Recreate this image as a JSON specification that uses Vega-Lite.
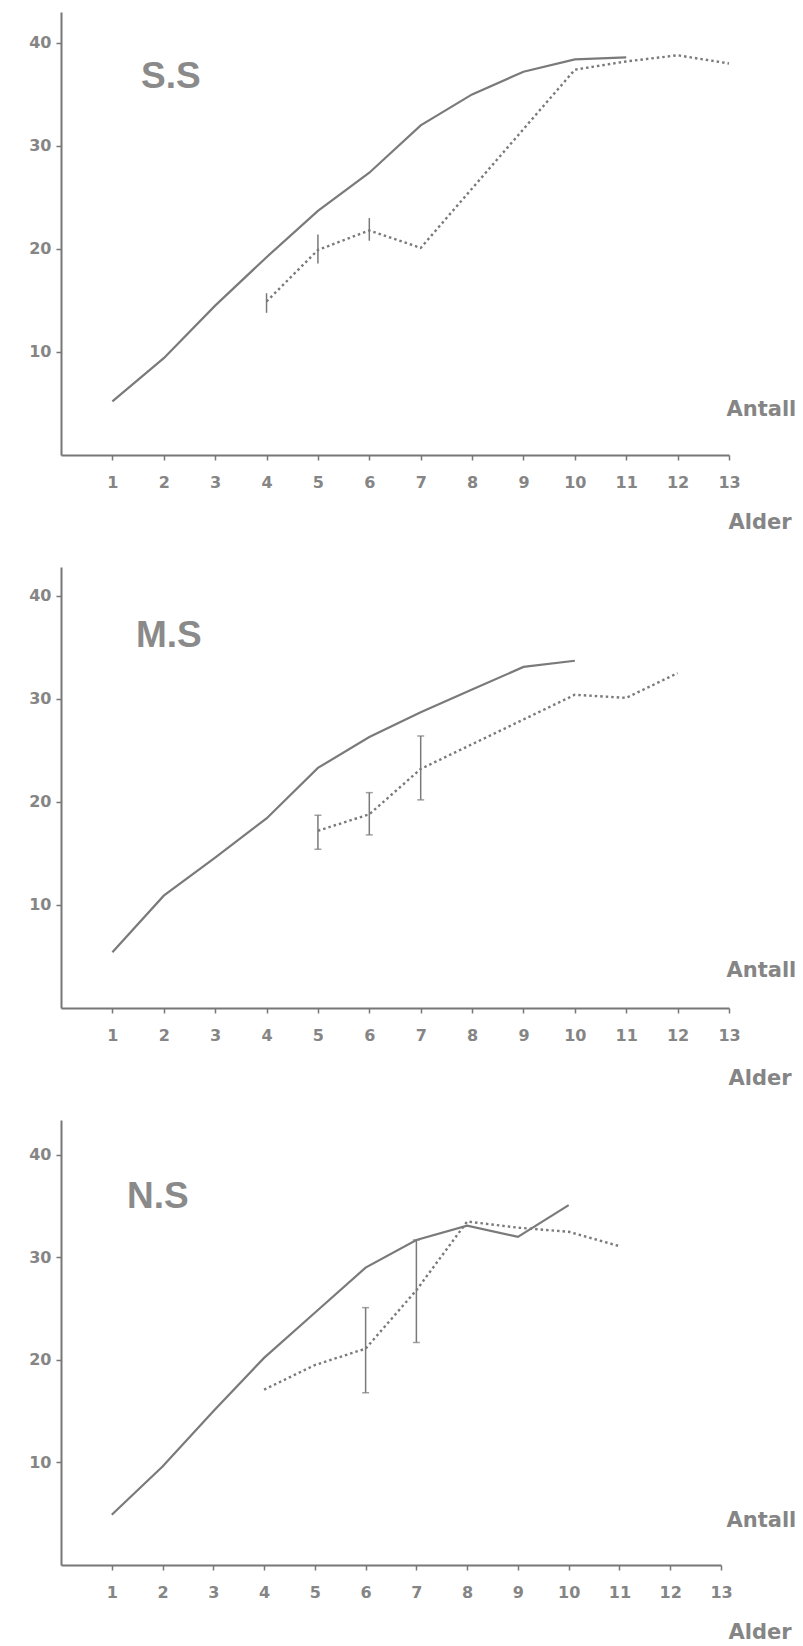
{
  "$schema": "https://vega.github.io/schema/vega-lite/v6.json",
  "padding": {"left": 28, "top": 12, "right": 5, "bottom": 5},
  "background": "white",
  "datasets": {
    "ss": [
      {"series": "solid", "age": 1, "value": 5.2},
      {"series": "solid", "age": 2, "value": 9.4},
      {"series": "solid", "age": 3, "value": 14.5},
      {"series": "solid", "age": 4, "value": 19.2},
      {"series": "solid", "age": 5, "value": 23.7},
      {"series": "solid", "age": 6, "value": 27.4},
      {"series": "solid", "age": 7, "value": 32.0},
      {"series": "solid", "age": 8, "value": 35.0},
      {"series": "solid", "age": 9, "value": 37.2},
      {"series": "solid", "age": 10, "value": 38.4},
      {"series": "solid", "age": 11, "value": 38.6},
      {"series": "dotted", "age": 4, "value": 14.9, "lo": 13.8, "hi": 15.7},
      {"series": "dotted", "age": 5, "value": 19.9, "lo": 18.6, "hi": 21.4},
      {"series": "dotted", "age": 6, "value": 21.8, "lo": 20.8, "hi": 23.0},
      {"series": "dotted", "age": 7, "value": 20.1},
      {"series": "dotted", "age": 10, "value": 37.4},
      {"series": "dotted", "age": 11, "value": 38.2},
      {"series": "dotted", "age": 12, "value": 38.8},
      {"series": "dotted", "age": 13, "value": 38.0}
    ],
    "ms": [
      {"series": "solid", "age": 1, "value": 5.4},
      {"series": "solid", "age": 2, "value": 10.9},
      {"series": "solid", "age": 3, "value": 14.6},
      {"series": "solid", "age": 4, "value": 18.4},
      {"series": "solid", "age": 5, "value": 23.3},
      {"series": "solid", "age": 6, "value": 26.3},
      {"series": "solid", "age": 7, "value": 28.7},
      {"series": "solid", "age": 8, "value": 30.9},
      {"series": "solid", "age": 9, "value": 33.1},
      {"series": "solid", "age": 10, "value": 33.7},
      {"series": "dotted", "age": 5, "value": 17.2, "lo": 15.4, "hi": 18.7},
      {"series": "dotted", "age": 6, "value": 18.8, "lo": 16.8, "hi": 20.9},
      {"series": "dotted", "age": 7, "value": 23.2, "lo": 20.2, "hi": 26.4},
      {"series": "dotted", "age": 10, "value": 30.4},
      {"series": "dotted", "age": 11, "value": 30.1},
      {"series": "dotted", "age": 12, "value": 32.5}
    ],
    "ns": [
      {"series": "solid", "age": 1, "value": 4.9},
      {"series": "solid", "age": 2, "value": 9.6},
      {"series": "solid", "age": 3, "value": 15.0},
      {"series": "solid", "age": 4, "value": 20.2},
      {"series": "solid", "age": 5, "value": 24.6},
      {"series": "solid", "age": 6, "value": 29.0},
      {"series": "solid", "age": 7, "value": 31.7},
      {"series": "solid", "age": 8, "value": 33.1},
      {"series": "solid", "age": 9, "value": 32.0},
      {"series": "solid", "age": 10, "value": 35.1},
      {"series": "dotted", "age": 4, "value": 17.1},
      {"series": "dotted", "age": 5, "value": 19.5},
      {"series": "dotted", "age": 6, "value": 21.1, "lo": 16.8, "hi": 25.1},
      {"series": "dotted", "age": 7, "value": 26.8, "lo": 21.7, "hi": 31.7},
      {"series": "dotted", "age": 8, "value": 33.5},
      {"series": "dotted", "age": 9, "value": 32.9},
      {"series": "dotted", "age": 10, "value": 32.5},
      {"series": "dotted", "age": 11, "value": 31.1}
    ]
  },
  "vconcat": [
    {
      "width": 668,
      "height": 443,
      "data": {"name": "ss"},
      "title": {"text": "S.S", "anchor": "start", "frame": "group", "offset": 0, "dx": 80, "dy": 113, "baseline": "alphabetic"},
      "encoding": {
        "x": {"field": "age", "type": "quantitative", "scale": {"domain": [0, 13], "nice": false, "zero": false},
          "axis": {"values": [1,2,3,4,5,6,7,8,9,10,11,12,13], "title": "Alder", "titleX": 667, "titleY": 67, "titleAlign": "left", "titleBaseline": "middle", "titleAngle": 0, "labelPadding": 14, "labelFlush": false, "labelOverlap": false}},
        "y": {"field": "value", "type": "quantitative", "scale": {"domain": [0, 43], "nice": false},
          "axis": {"values": [10, 20, 30, 40], "title": "Antall", "titleX": 665, "titleY": 397, "titleAlign": "left", "titleBaseline": "middle", "titleAngle": 0, "labelPadding": 5}}
      },
      "layer": [
        {"transform": [{"filter": "datum.series == 'solid'"}], "mark": {"type": "line", "color": "#7a7a7a", "strokeWidth": 2.2}},
        {"transform": [{"filter": "datum.series == 'dotted'"}], "mark": {"type": "line", "color": "#7a7a7a", "strokeWidth": 2.4, "strokeDash": [2.5, 3]}},
        {"transform": [{"filter": "isValid(datum.lo)"}], "mark": {"type": "rule", "color": "#7a7a7a", "strokeWidth": 1.5},
          "encoding": {"y": {"field": "lo", "type": "quantitative"}, "y2": {"field": "hi"}}}
      ]
    },
    {
      "width": 668,
      "height": 441,
      "data": {"name": "ms"},
      "title": {"text": "M.S", "anchor": "start", "frame": "group", "offset": 0, "dx": 75, "dy": 117, "baseline": "alphabetic"},
      "encoding": {
        "x": {"field": "age", "type": "quantitative", "scale": {"domain": [0, 13], "nice": false, "zero": false},
          "axis": {"values": [1,2,3,4,5,6,7,8,9,10,11,12,13], "title": "Alder", "titleX": 667, "titleY": 70, "titleAlign": "left", "titleBaseline": "middle", "titleAngle": 0, "labelPadding": 14, "labelFlush": false, "labelOverlap": false}},
        "y": {"field": "value", "type": "quantitative", "scale": {"domain": [0, 42.8], "nice": false},
          "axis": {"values": [10, 20, 30, 40], "title": "Antall", "titleX": 665, "titleY": 403, "titleAlign": "left", "titleBaseline": "middle", "titleAngle": 0, "labelPadding": 5}}
      },
      "layer": [
        {"transform": [{"filter": "datum.series == 'solid'"}], "mark": {"type": "line", "color": "#7a7a7a", "strokeWidth": 2.2}},
        {"transform": [{"filter": "datum.series == 'dotted'"}], "mark": {"type": "line", "color": "#7a7a7a", "strokeWidth": 2.4, "strokeDash": [2.5, 3]}},
        {"transform": [{"filter": "isValid(datum.lo)"}], "mark": {"type": "rule", "color": "#7a7a7a", "strokeWidth": 1.5},
          "encoding": {"y": {"field": "lo", "type": "quantitative"}, "y2": {"field": "hi"}}},
        {"transform": [{"filter": "isValid(datum.lo)"}], "mark": {"type": "tick", "orient": "horizontal", "size": 7, "thickness": 1.5, "color": "#7a7a7a"},
          "encoding": {"y": {"field": "lo", "type": "quantitative"}}},
        {"transform": [{"filter": "isValid(datum.hi)"}], "mark": {"type": "tick", "orient": "horizontal", "size": 7, "thickness": 1.5, "color": "#7a7a7a"},
          "encoding": {"y": {"field": "hi", "type": "quantitative"}}}
      ]
    },
    {
      "width": 660,
      "height": 445,
      "data": {"name": "ns"},
      "title": {"text": "N.S", "anchor": "start", "frame": "group", "offset": 0, "dx": 66, "dy": 125, "baseline": "alphabetic"},
      "encoding": {
        "x": {"field": "age", "type": "quantitative", "scale": {"domain": [0, 13], "nice": false, "zero": false},
          "axis": {"values": [1,2,3,4,5,6,7,8,9,10,11,12,13], "title": "Alder", "titleX": 667, "titleY": 67, "titleAlign": "left", "titleBaseline": "middle", "titleAngle": 0, "labelPadding": 14, "labelFlush": false, "labelOverlap": false}},
        "y": {"field": "value", "type": "quantitative", "scale": {"domain": [0, 43.4], "nice": false},
          "axis": {"values": [10, 20, 30, 40], "title": "Antall", "titleX": 665, "titleY": 400, "titleAlign": "left", "titleBaseline": "middle", "titleAngle": 0, "labelPadding": 5}}
      },
      "layer": [
        {"transform": [{"filter": "datum.series == 'solid'"}], "mark": {"type": "line", "color": "#7a7a7a", "strokeWidth": 2.2}},
        {"transform": [{"filter": "datum.series == 'dotted'"}], "mark": {"type": "line", "color": "#7a7a7a", "strokeWidth": 2.4, "strokeDash": [2.5, 3]}},
        {"transform": [{"filter": "isValid(datum.lo)"}], "mark": {"type": "rule", "color": "#7a7a7a", "strokeWidth": 1.5},
          "encoding": {"y": {"field": "lo", "type": "quantitative"}, "y2": {"field": "hi"}}},
        {"transform": [{"filter": "isValid(datum.lo)"}], "mark": {"type": "tick", "orient": "horizontal", "size": 7, "thickness": 1.5, "color": "#7a7a7a"},
          "encoding": {"y": {"field": "lo", "type": "quantitative"}}},
        {"transform": [{"filter": "isValid(datum.hi)"}], "mark": {"type": "tick", "orient": "horizontal", "size": 7, "thickness": 1.5, "color": "#7a7a7a"},
          "encoding": {"y": {"field": "hi", "type": "quantitative"}}}
      ]
    }
  ],
  "spacing": 112,
  "bounds": "flush",
  "config": {
    "view": {"stroke": null},
    "font": "Liberation Sans",
    "title": {"font": "Liberation Sans", "fontWeight": "bold", "fontSize": 37, "color": "#8a8a8a"},
    "axis": {
      "grid": false,
      "domainColor": "#777777",
      "domainWidth": 2,
      "tickColor": "#777777",
      "tickWidth": 1.5,
      "tickSize": 5,
      "labelFont": "DejaVu Sans",
      "labelFontWeight": "bold",
      "labelFontSize": 16,
      "labelColor": "#858585",
      "titleFont": "DejaVu Sans",
      "titleFontWeight": "bold",
      "titleFontSize": 21,
      "titleColor": "#858585"
    }
  }
}
